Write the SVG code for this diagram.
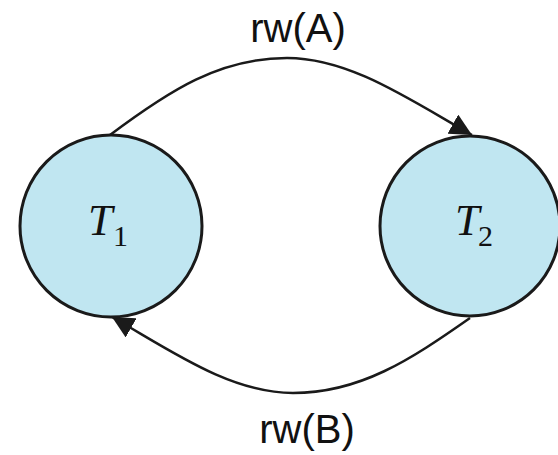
<svg xmlns="http://www.w3.org/2000/svg" width="558" height="455" viewBox="0 0 558 455">
<style>
.node{fill:#c0e6f1;stroke:#1a1a1a;stroke-width:3}
.edge{fill:none;stroke:#1a1a1a;stroke-width:2.5}
.lbl{font-family:"Liberation Sans",Arial,sans-serif;font-size:40px;fill:#111;text-anchor:middle}
.math{font-family:"Liberation Serif","Times New Roman",serif;fill:#111}
</style>
<defs>
<marker id="arr" markerUnits="userSpaceOnUse" markerWidth="24" markerHeight="22" refX="22" refY="11" orient="auto">
<path d="M0,0 L22,11 L0,22 Z" fill="#1a1a1a"/>
</marker>
</defs>
<g id="edges">
<path class="edge" d="M110,135 C170,90 220,58 287,58 C350,58 410,100 472,135" marker-end="url(#arr)"/>
<path class="edge" d="M470,318 C410,360 360,393 293,393 C230,393 170,350 112,317" marker-end="url(#arr)"/>
<text class="lbl" x="298" y="42">rw(A)</text>
<text class="lbl" x="307" y="443">rw(B)</text>
</g>
<g id="T1">
<circle class="node" cx="111" cy="226" r="91"/>
<text class="math" x="88" y="235" font-size="44" font-style="italic">T</text>
<text class="math" x="113" y="246" font-size="30">1</text>
</g>
<g id="T2">
<circle class="node" cx="470" cy="226" r="90"/>
<text class="math" x="455" y="235" font-size="44" font-style="italic">T</text>
<text class="math" x="478" y="246" font-size="30">2</text>
</g>
</svg>
